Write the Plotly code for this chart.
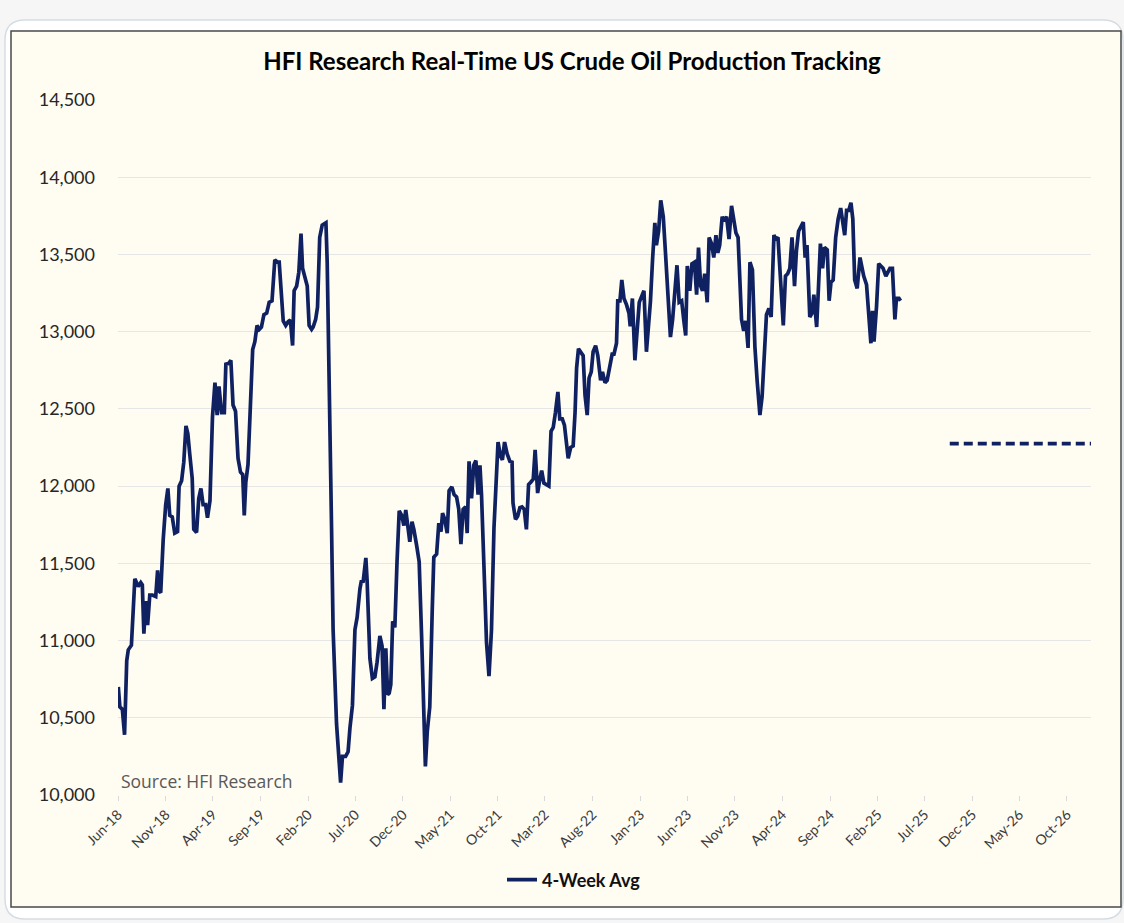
import plotly.graph_objects as go

# ---------------- data ----------------
d2018 = ["2018-06-02","2018-06-07","2018-06-15","2018-06-22","2018-06-29","2018-07-04","2018-07-14","2018-07-25",
         "2018-08-05","2018-08-13","2018-08-18","2018-08-23","2018-08-29","2018-09-04","2018-09-11","2018-09-19",
         "2018-09-30","2018-10-06","2018-10-11","2018-10-16","2018-10-24","2018-11-01","2018-11-08","2018-11-14",
         "2018-11-22","2018-11-30","2018-12-09","2018-12-14","2018-12-22","2018-12-29"]
v2018 = [10700,10570,10555,10390,10870,10940,10970,11400,
         11350,11375,11360,11045,11255,11100,11295,11295,
         11285,11455,11320,11310,11655,11880,11985,11810,
         11800,11695,11705,12000,12035,12155]

d2019 = ["2019-01-05","2019-01-11","2019-01-17","2019-01-25","2019-01-30","2019-02-08","2019-02-15","2019-02-22",
         "2019-03-01","2019-03-09","2019-03-15","2019-03-23","2019-03-31","2019-04-08","2019-04-15","2019-04-21",
         "2019-04-29","2019-05-08","2019-05-13","2019-05-23","2019-05-29","2019-06-05","2019-06-13","2019-06-21",
         "2019-06-29","2019-07-06","2019-07-11","2019-07-16","2019-07-23","2019-08-01","2019-08-07","2019-08-14",
         "2019-08-21","2019-08-28","2019-09-04","2019-09-12","2019-09-21","2019-09-29","2019-10-08","2019-10-17",
         "2019-10-26","2019-10-31","2019-11-08","2019-11-13","2019-11-21","2019-11-29","2019-12-06","2019-12-13",
         "2019-12-18","2019-12-26"]
v2019 = [12390,12340,12210,12050,11720,11700,11920,11985,
         11880,11880,11795,11905,12445,12670,12460,12645,
         12475,12475,12790,12795,12815,12525,12485,12180,
         12090,12075,11810,12025,12140,12630,12885,12935,
         13040,13015,13030,13110,13120,13190,13200,13465,
         13450,13450,13255,13070,13040,13065,13075,12910,
         13265,13295]

d2020 = ["2020-01-02","2020-01-09","2020-01-14","2020-01-21","2020-01-29","2020-02-04","2020-02-12","2020-02-17",
         "2020-02-25","2020-03-02","2020-03-09","2020-03-17","2020-03-25","2020-03-29","2020-04-02","2020-04-11",
         "2020-04-16","2020-04-21","2020-05-02","2020-05-15","2020-05-21","2020-05-31","2020-06-08","2020-06-14",
         "2020-06-22","2020-06-30","2020-07-07","2020-07-16","2020-07-21","2020-07-26","2020-08-04","2020-08-08",
         "2020-08-17","2020-08-25","2020-09-02","2020-09-09","2020-09-18","2020-09-25","2020-10-01","2020-10-07",
         "2020-10-13","2020-10-18","2020-10-23","2020-10-29","2020-11-05","2020-11-12","2020-11-19","2020-11-27",
         "2020-12-04","2020-12-10","2020-12-17","2020-12-23","2020-12-30"]
v2020 = [13385,13635,13410,13360,13295,13040,13015,13030,
         13080,13160,13610,13690,13705,13705,13450,12525,
         11730,11070,10460,10080,10250,10250,10280,10435,
         10580,11070,11150,11335,11390,11375,11535,11390,
         10885,10755,10765,10860,11030,10965,10555,10950,
         10650,10660,10715,11125,11085,11510,11840,11810,
         11745,11845,11745,11640,11770]

d2021 = ["2021-01-05","2021-01-14","2021-01-22","2021-01-30","2021-02-06","2021-02-11","2021-02-17","2021-02-25",
         "2021-03-05","2021-03-10","2021-03-19","2021-03-26","2021-04-02","2021-04-07","2021-04-14","2021-04-22",
         "2021-04-28","2021-05-07","2021-05-14","2021-05-22","2021-05-29","2021-06-05","2021-06-12","2021-06-20",
         "2021-06-25","2021-07-01","2021-07-09","2021-07-16","2021-07-23","2021-07-30","2021-08-05","2021-08-10",
         "2021-08-18","2021-08-26","2021-09-03","2021-09-11","2021-09-19","2021-09-27","2021-10-02","2021-10-10",
         "2021-10-16","2021-10-23","2021-10-31","2021-11-09","2021-11-16","2021-11-19","2021-11-27","2021-12-04",
         "2021-12-11","2021-12-18","2021-12-25"]
v2021 = [11720,11615,11510,11020,10460,10185,10410,10570,
         11200,11540,11560,11760,11705,11825,11785,11695,
         11970,11995,11945,11930,11850,11625,11850,11865,
         11695,12160,11920,12135,12165,11945,12135,11945,
         11470,10990,10770,11070,11730,12105,12285,12195,
         12170,12285,12210,12160,12155,11890,11785,11805,
         11860,11865,11850]

d2022 = ["2022-01-01","2022-01-08","2022-01-15","2022-01-23","2022-01-29","2022-02-06","2022-02-13","2022-02-19",
         "2022-02-26","2022-03-07","2022-03-14","2022-03-21","2022-03-28","2022-04-04","2022-04-12","2022-04-18",
         "2022-04-26","2022-05-03","2022-05-10","2022-05-15","2022-05-23","2022-05-31","2022-06-06","2022-06-11",
         "2022-06-17","2022-06-25","2022-07-02","2022-07-08","2022-07-15","2022-07-21","2022-07-28","2022-08-03",
         "2022-08-11","2022-08-18","2022-08-27","2022-09-02","2022-09-10","2022-09-17","2022-09-26","2022-10-03",
         "2022-10-09","2022-10-17","2022-10-21","2022-10-28","2022-11-03","2022-11-10","2022-11-18","2022-11-26",
         "2022-11-30","2022-12-07","2022-12-15","2022-12-22","2022-12-29"]
v2022 = [11720,12010,12025,12045,12235,11955,12045,12100,
         12020,12010,12000,12355,12380,12475,12610,12435,
         12435,12395,12260,12180,12250,12260,12475,12765,
         12890,12870,12845,12590,12460,12700,12740,12870,
         12910,12845,12685,12740,12670,12685,12780,12855,
         12855,12925,13200,13200,13335,13215,13175,13120,
         13035,13215,12815,13040,13190]

d2023 = ["2023-01-05","2023-01-13","2023-01-21","2023-01-28","2023-02-03","2023-02-10","2023-02-17","2023-02-22",
         "2023-03-01","2023-03-08","2023-03-16","2023-03-24","2023-03-31","2023-04-08","2023-04-15","2023-04-22",
         "2023-04-29","2023-05-06","2023-05-14","2023-05-21","2023-05-27","2023-06-01","2023-06-09","2023-06-16",
         "2023-06-24","2023-07-01","2023-07-07","2023-07-14","2023-07-20","2023-07-27","2023-08-04","2023-08-10",
         "2023-08-18","2023-08-25","2023-09-01","2023-09-07","2023-09-13","2023-09-21","2023-09-27","2023-10-05",
         "2023-10-13","2023-10-21","2023-10-28","2023-11-04","2023-11-11","2023-11-17","2023-11-22","2023-11-29",
         "2023-12-06","2023-12-13","2023-12-19","2023-12-27"]
v2023 = [13225,13265,12870,13030,13200,13480,13705,13560,
         13650,13850,13745,13480,13240,12965,13080,13265,
         13430,13190,13200,13070,12975,13425,13265,13440,
         13450,13240,13545,13295,13265,13375,13190,13610,
         13570,13480,13625,13510,13560,13745,13715,13745,
         13600,13815,13715,13640,13610,13320,13080,13005,
         13070,12895,13450,13400]

d2024 = ["2024-01-04","2024-01-11","2024-01-20","2024-01-27","2024-02-03","2024-02-10","2024-02-18","2024-02-25",
         "2024-03-05","2024-03-11","2024-03-18","2024-03-26","2024-04-04","2024-04-11","2024-04-18","2024-04-25",
         "2024-05-02","2024-05-10","2024-05-16","2024-05-23","2024-05-30","2024-06-07","2024-06-13","2024-06-19",
         "2024-06-28","2024-07-05","2024-07-11","2024-07-20","2024-07-26","2024-08-01","2024-08-08","2024-08-14",
         "2024-08-23","2024-08-29","2024-09-04","2024-09-11","2024-09-19","2024-09-27","2024-10-05","2024-10-11",
         "2024-10-18","2024-10-24","2024-10-31","2024-11-07","2024-11-13","2024-11-19","2024-11-27","2024-12-06",
         "2024-12-12","2024-12-18","2024-12-27"]
v2024 = [12900,12685,12460,12580,12895,13110,13150,13095,
         13625,13600,13610,13360,13040,13360,13375,13410,
         13610,13295,13520,13650,13675,13710,13480,13560,
         13095,13120,13240,13030,13295,13570,13410,13545,
         13530,13200,13320,13335,13610,13730,13800,13715,
         13625,13785,13785,13835,13730,13335,13280,13480,
         13400,13360,13305]

d2025 = ["2025-01-03","2025-01-10","2025-01-15","2025-01-20","2025-01-28","2025-02-04","2025-02-11","2025-02-18",
         "2025-02-27","2025-03-05","2025-03-12","2025-03-20","2025-03-28","2025-04-02","2025-04-10","2025-04-15"]
v2025 = [13135,12925,13135,12935,13160,13440,13425,13410,
         13360,13385,13410,13410,13080,13215,13215,13200]

target_dates = ["2025-09-20", "2026-12-31"]
target_values = [12275, 12275]

y_ticks = [10000, 10500, 11000, 11500, 12000, 12500, 13000, 13500, 14000, 14500]

title_text = "HFI Research Real-Time US Crude Oil Production Tracking"
series_name = "4-Week Avg"
source_text = "Source: HFI Research"

dates = d2018 + d2019 + d2020 + d2021 + d2022 + d2023 + d2024 + d2025
values = v2018 + v2019 + v2020 + v2021 + v2022 + v2023 + v2024 + v2025

# ---------------- layout geometry ----------------
W, H = 1124, 923
L, R, T, B = 118, 1091, 100, 795
PW, PH = R - L, B - T

def px(x):
    return (x - L) / PW

def py(y):
    return (B - y) / PH

NAVY = "#0f2160"
CREAM = "#fffcf2"
FONT = "Lato, 'Open Sans', sans-serif"

fig = go.Figure()
fig.add_trace(go.Scatter(x=dates, y=values, mode="lines", name=f"<b>{series_name}</b>",
                         line=dict(color=NAVY, width=3.7), showlegend=True))
fig.add_trace(go.Scatter(x=target_dates, y=target_values, mode="lines",
                         line=dict(color=NAVY, width=3.8, dash="9px,5px"), showlegend=False))

def rounded_path(x0, y0, x1, y1, r):
    X = lambda v: f"{px(v):.6f}"
    Y = lambda v: f"{py(v):.6f}"
    return (f"M {X(x0+r)},{Y(y0)} L {X(x1-r)},{Y(y0)} Q {X(x1)},{Y(y0)} {X(x1)},{Y(y0+r)} "
            f"L {X(x1)},{Y(y1-r)} Q {X(x1)},{Y(y1)} {X(x1-r)},{Y(y1)} "
            f"L {X(x0+r)},{Y(y1)} Q {X(x0)},{Y(y1)} {X(x0)},{Y(y1-r)} "
            f"L {X(x0)},{Y(y0+r)} Q {X(x0)},{Y(y0)} {X(x0+r)},{Y(y0)} Z")

shapes = [
    dict(type="path", xref="paper", yref="paper", layer="below",
         path=rounded_path(5, 20, 1123, 919, 20),
         fillcolor="#ffffff", line=dict(color="#d5dde2", width=1.5)),
    dict(type="rect", xref="paper", yref="paper", layer="below",
         x0=px(11), x1=px(1121), y0=py(907), y1=py(31),
         fillcolor=CREAM, line=dict(color="#4a4a4a", width=1.5)),
]

fig.update_layout(
    width=W, height=H,
    margin=dict(l=L, r=W - R, t=T, b=H - B, pad=0),
    paper_bgcolor="#f6f6f6",
    plot_bgcolor=CREAM,
    shapes=shapes,
    title=dict(text=f"<b>{title_text}</b>", xref="container", x=572 / W, xanchor="center",
               yref="container", y=1 - 62 / H, yanchor="middle",
               font=dict(family=FONT, size=24, color="#000000")),
    xaxis=dict(type="date", range=["2018-06-01", "2026-12-17"],
               tick0="2018-06-01", dtick="M5", tickformat="%b-%y",
               tickangle=-45, tickfont=dict(family=FONT, size=14, color="#3a3a3a"),
               showgrid=False, showline=False, zeroline=False,
               ticks="outside", ticklen=5, tickcolor="#d9d9d9", tickwidth=1),
    yaxis=dict(range=[10000, 14500], tickvals=y_ticks, tickformat=",d",
               tickfont=dict(family=FONT, size=18, color="#262626"),
               showgrid=True, gridcolor="#e6e6e6", gridwidth=1,
               zeroline=False, showline=False, ticks="", ticklabelstandoff=22),
    legend=dict(orientation="h", x=px(502), xanchor="left", y=py(880), yanchor="middle",
                bgcolor="rgba(0,0,0,0)", font=dict(family=FONT, size=18, color="#111111"),
                itemwidth=30),
    annotations=[dict(text=source_text, xref="paper", yref="paper", x=px(119), y=py(781),
                      xanchor="left", yanchor="middle", showarrow=False,
                      font=dict(family="'Open Sans', sans-serif", size=17.5, color="#595959"))],
)

fig.write_html("out.html")
